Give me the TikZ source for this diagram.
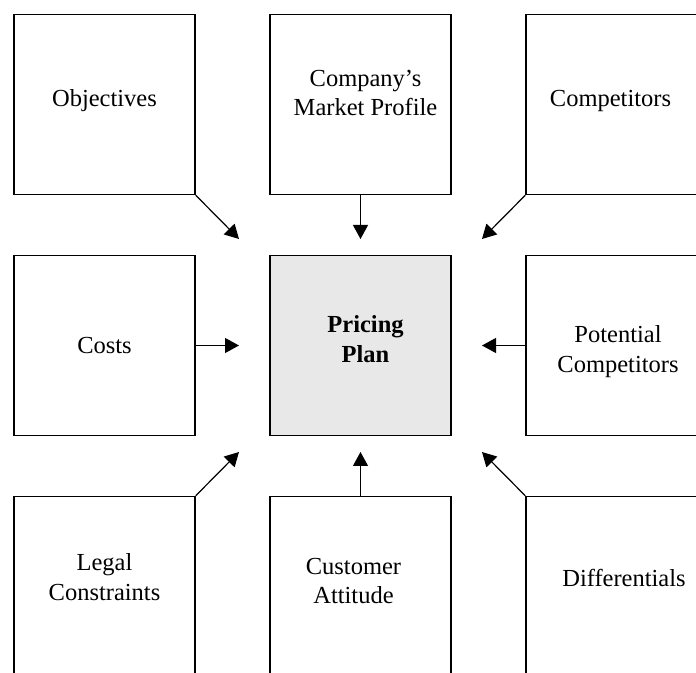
\documentclass[tikz,border=0pt]{standalone}
\usepackage{fontspec}
\setmainfont{Liberation Serif}
\usetikzlibrary{arrows.meta}

\tikzset{
	factor/.style={draw, line width=0.75pt, minimum width=90.5pt, minimum height=90pt},
	plan/.style={factor, fill=black!9},
	caption/.style={align=center, inner sep=0pt, font=\fontsize{12.25}{14.9}\selectfont},
	influence/.style={-{Triangle[length=7pt,width=7.5pt]}, line width=0.6pt}
}

\begin{document}
\begin{tikzpicture}[x=0.5pt, y=-0.5pt]
					\useasboundingbox (0,0) rectangle (696,673);
					\clip (0,0) rectangle (696,673);

					% boxes
					\node[factor] at (104.5,104.5) (obj) {};
					\node[factor] at (360.5,104.5) (profile) {};
					\node[factor] at (616.5,104.5) (comp) {};
					\node[factor] at (104.5,345.5) (costs) {};
					\node[plan] at (360.5,345.5) (pricing) {};
					\node[factor] at (616.5,345.5) (potential) {};
					\node[factor] at (104.5,586.5) (legal) {};
					\node[factor] at (360.5,586.5) (attitude) {};
					\node[factor] at (616.5,586.5) (diff) {};

					% texts
					\node[caption] at (104.5,101) (objtxt) {Objectives};
					\node[caption] at (365.5,93) (profiletxt) {Company's\\Market Profile};
					\node[caption] at (610.5,101) (comptxt) {Competitors};
					\node[caption] at (104.5,345.5) (coststxt) {Costs};
					\node[caption, font=\fontsize{12.25}{14.9}\selectfont\bfseries] at (365.5,339) (pricingtxt) {Pricing\\Plan};
					\node[caption] at (618,352) (potentialtxt) {Potential\\Competitors};
					\node[caption] at (104.5,577) (legaltxt) {Legal\\Constraints};
					\node[caption] at (353.5,581) (attitudetxt) {Customer\\Attitude};
					\node[caption] at (624,578) (difftxt) {Differentials};

					% arrow tips, just short of the plan
					\coordinate (tnw) at (239,239);
					\coordinate (tn) at (360.5,239);
					\coordinate (tne) at (482,239);
					\coordinate (tw) at (239,345.5);
					\coordinate (te) at (482,345.5);
					\coordinate (tsw) at (239,452);
					\coordinate (ts) at (360.5,452);
					\coordinate (tse) at (482,452);

					\draw[influence] (obj.south east)-- (tnw);
					\draw[influence] (profile.south)-- (tn);
					\draw[influence] (comp.south west)-- (tne);
					\draw[influence] (costs.east)-- (tw);
					\draw[influence] (potential.west)-- (te);
					\draw[influence] (legal.north east)-- (tsw);
					\draw[influence] (attitude.north)-- (ts);
					\draw[influence] (diff.north west)-- (tse);
				\end{tikzpicture}
\end{document}
